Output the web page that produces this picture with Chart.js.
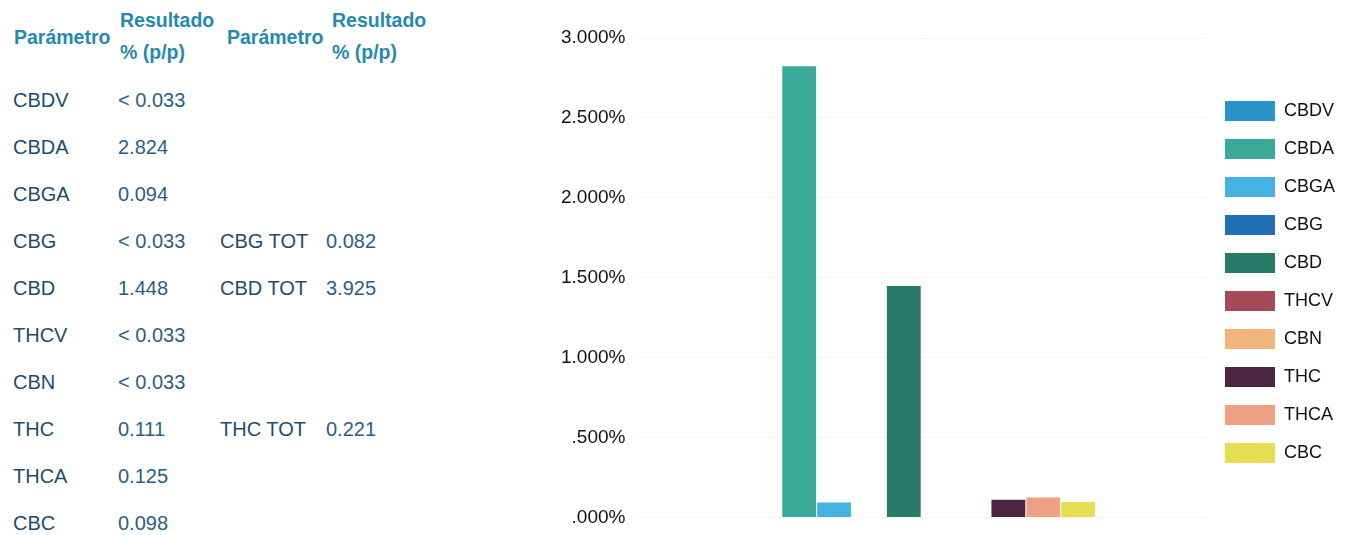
<!DOCTYPE html>
<html>
<head>
<meta charset="utf-8">
<script src="https://cdn.jsdelivr.net/npm/chart.js@4"></script>
<style>
body{margin:0;background:#fff;width:1357px;height:535px;overflow:hidden;position:relative;font-family:"Liberation Sans",Arial,sans-serif;}
#tabla{position:absolute;left:0;top:0;width:470px;height:535px;}
#tabla div{position:absolute;white-space:nowrap;}
.hdr{color:#2689ad;font-weight:bold;font-size:19.5px;line-height:32px;}
.nom{color:#1e4d6b;font-size:20px;}
.val{color:#2b5f80;font-size:20px;}
#wrap{position:absolute;left:540px;top:0;width:817px;height:539px;}
</style>
</head>
<body>

<div id="tabla"></div>
<div id="wrap"><canvas id="grafico"></canvas></div>

<script>

/* DATOS */

const parametros = ["CBDV","CBDA","CBGA","CBG","CBD","THCV","CBN","THC","THCA","CBC"];
const resultados = ["< 0.033","2.824","0.094","< 0.033","1.448","< 0.033","< 0.033","0.111","0.125","0.098"];
const valores = [0,2.824,0.094,0,1.448,0,0,0.111,0.125,0.098];
const totales = ["","","","CBG TOT","CBD TOT","","","THC TOT","",""];
const totalValores = ["","","","0.082","3.925","","","0.221","",""];
const colores = ["#2a93c9","#3aa99a","#46b2e4","#1f70b6","#277a66","#a64a5a","#f0b47c","#4b2442","#ef9f82","#e6de52"];
const ticksY = [0,0.5,1,1.5,2,2.5,3];


/* TABLA */

const tabla = document.getElementById("tabla");

function texto(cls,x,y,t){
let d=document.createElement("div");
d.className=cls;
d.style.left=x+"px";
d.style.top=y+"px";
d.innerHTML=t;
tabla.appendChild(d);
}

texto("hdr",14,21,"Parámetro");
texto("hdr",120,4,"Resultado<br>% (p/p)");
texto("hdr",227,21,"Parámetro");
texto("hdr",332,4,"Resultado<br>% (p/p)");

for(let i=0;i<parametros.length;i++){
let y=89+i*47;
texto("nom",13,y,parametros[i]);
texto("val",118,y,resultados[i]);
texto("nom",220,y,totales[i]);
texto("val",326,y,totalValores[i]);
}


/* GRAFICO */

const datasets = parametros.map((p,i)=>({
label:p,
data:[valores[i]],
backgroundColor:colores[i],
borderWidth:0,
categoryPercentage:0.61,
barPercentage:0.97
}));

new Chart(document.getElementById("grafico"),{
type:"bar",
data:{
labels:[""],
datasets:datasets
},
options:{
responsive:true,
maintainAspectRatio:false,
animation:false,
layout:{padding:{left:11,right:12,top:38,bottom:18}},
plugins:{
legend:{
position:"right",
title:{display:true,text:" ",padding:0,font:{size:4}},
labels:{
boxWidth:50,
boxHeight:20,
padding:18,
color:"#111",
font:{family:"Liberation Sans",size:18}
}
},
tooltip:{enabled:false}
},
scales:{
x:{display:false},
y:{
min:0,
max:3,
afterBuildTicks:(ax)=>{ax.ticks=ticksY.map(v=>({value:v}));},
border:{display:false},
grid:{color:"rgba(0,0,0,0.035)",drawTicks:false,tickLength:0},
ticks:{
color:"#111",
padding:10,
font:{family:"Liberation Sans",size:19},
callback:(v)=>(v.toFixed(3)+"%").replace(/^0/,"")
}
}
}
}
});

</script>
</body>
</html>
